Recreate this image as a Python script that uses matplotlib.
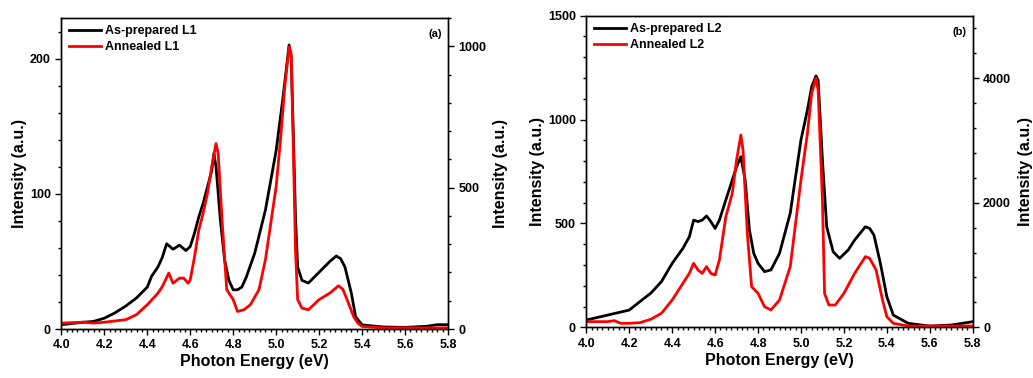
import matplotlib
matplotlib.use("Agg")
import matplotlib.pyplot as plt
from matplotlib.ticker import MultipleLocator
import numpy as np

plt.rcParams['font.family'] = ['Liberation Sans', 'DejaVu Sans']
plt.rcParams['font.weight'] = 'bold'

# Panel (a) As-prepared L1 (left axis)
a_black_x = [4.0, 4.1, 4.15, 4.2, 4.25, 4.3, 4.35, 4.4, 4.42, 4.45, 4.47, 4.49, 4.52, 4.55, 4.58, 4.6,
             4.62, 4.64, 4.66, 4.68, 4.7, 4.71, 4.72, 4.74, 4.76, 4.78, 4.8, 4.82, 4.84, 4.86, 4.9, 4.95,
             5.0, 5.03, 5.05, 5.06, 5.07, 5.08, 5.09, 5.1, 5.12, 5.15, 5.2, 5.25, 5.28, 5.3, 5.32, 5.35,
             5.37, 5.4, 5.5, 5.6, 5.7, 5.75, 5.8]
a_black_y = [3.2, 5, 5.6, 8, 12, 17, 23, 31, 39, 46, 53, 63, 59, 62, 58, 61,
             71, 83, 93, 105, 117, 130, 120, 81, 51, 36, 29, 29, 31, 38, 56, 88,
             132, 169, 196, 210, 201, 144, 83, 46, 36, 34, 42, 50, 54, 52, 46, 26.5,
             9, 3, 1.5, 1.2, 2, 3.2, 3.2]
# Panel (a) Annealed L1 (right axis)
a_red_x = [4.0, 4.1, 4.15, 4.2, 4.3, 4.35, 4.4, 4.45, 4.47, 4.5, 4.52, 4.55, 4.57, 4.59, 4.6, 4.62,
           4.64, 4.66, 4.68, 4.7, 4.72, 4.73, 4.75, 4.77, 4.8, 4.82, 4.85, 4.88, 4.92, 4.95, 5.0,
           5.02, 5.04, 5.06, 5.07, 5.08, 5.09, 5.1, 5.12, 5.15, 5.2, 5.25, 5.29, 5.31, 5.33, 5.36,
           5.38, 5.4, 5.5, 5.6, 5.7, 5.8]
a_red_y = [21, 24, 21, 24, 33, 51, 86, 127, 150, 198, 162, 180, 180, 162, 174, 256,
           351, 409, 480, 574, 656, 621, 362, 139, 104, 62, 68, 86, 139, 245, 504,
           668, 856, 998, 974, 633, 280, 104, 74, 68, 104, 127, 153, 141, 104, 45,
           21, 9, 4, 4, 4, 4]

# Panel (b) As-prepared L2 (left axis)
b_black_x = [4.0, 4.1, 4.2, 4.25, 4.3, 4.35, 4.4, 4.45, 4.48, 4.5, 4.52, 4.54, 4.56, 4.58, 4.6, 4.62,
             4.65, 4.68, 4.7, 4.72, 4.74, 4.76, 4.78, 4.8, 4.83, 4.86, 4.9, 4.95, 5.0, 5.03, 5.05,
             5.07, 5.08, 5.1, 5.12, 5.15, 5.18, 5.22, 5.25, 5.3, 5.32, 5.34, 5.37, 5.4, 5.43, 5.5,
             5.6, 5.7, 5.8]
b_black_y = [35, 59, 83, 124, 164, 220, 308, 380, 436, 516, 509, 516, 536, 509, 476, 516,
             613, 709, 773, 821, 709, 468, 356, 308, 268, 276, 356, 549, 902, 1046, 1158,
             1210, 1190, 805, 484, 364, 332, 372, 420, 484, 476, 444, 308, 148, 59, 19,
             6, 11, 27]
# Panel (b) Annealed L2 (right axis)
b_red_x = [4.0, 4.1, 4.13, 4.16, 4.2, 4.25, 4.3, 4.35, 4.4, 4.45, 4.48, 4.5, 4.52, 4.54, 4.56, 4.58,
           4.6, 4.62, 4.65, 4.68, 4.7, 4.72, 4.73, 4.75, 4.77, 4.8, 4.83, 4.86, 4.9, 4.95, 5.0,
           5.03, 5.05, 5.07, 5.08, 5.1, 5.11, 5.13, 5.16, 5.2, 5.25, 5.3, 5.32, 5.35, 5.38, 5.4,
           5.43, 5.5, 5.6, 5.8]
b_red_y = [91, 91, 107, 64, 64, 75, 128, 225, 438, 706, 866, 1027, 920, 866, 973, 866,
           840, 1080, 1775, 2150, 2684, 3086, 2845, 1508, 652, 545, 332, 278, 438, 973, 2364,
           3112, 3754, 3995, 3807, 2043, 545, 358, 358, 545, 866, 1134, 1107, 920, 438, 171,
           64, 21, 21, 21]

fig = plt.figure(figsize=(10.33, 3.78), dpi=100)

def setup(pos, bx, by, rx, ry, ylim_l, ylim_r, lmaj, lmin, rmaj, rmin, lab_b, lab_r, tag):
    ax = fig.add_axes(pos)
    ax2 = ax.twinx()
    l1, = ax.plot(bx, by, color='black', lw=2.0, label=lab_b, solid_joinstyle='round')
    l2, = ax2.plot(rx, ry, color='#ff0000', lw=2.0, label=lab_r, solid_joinstyle='round')
    ax.set_xlim(4.0, 5.8)
    ax.set_ylim(*ylim_l)
    ax2.set_ylim(*ylim_r)
    ax.xaxis.set_major_locator(MultipleLocator(0.2))
    ax.xaxis.set_minor_locator(MultipleLocator(0.025))
    ax.yaxis.set_major_locator(MultipleLocator(lmaj))
    ax.yaxis.set_minor_locator(MultipleLocator(lmin))
    ax2.yaxis.set_major_locator(MultipleLocator(rmaj))
    ax2.yaxis.set_minor_locator(MultipleLocator(rmin))
    for a in (ax, ax2):
        a.tick_params(which='major', direction='out', length=4, width=1, labelsize=9)
        a.tick_params(which='minor', direction='out', length=2, width=1)
        for s in a.spines.values():
            s.set_linewidth(1.0)
    ax.tick_params(axis='x', which='both', top=False)
    ax.set_xticklabels([f"{v:.1f}" for v in ax.get_xticks()], fontweight='bold')
    for t in ax.get_yticklabels() + ax2.get_yticklabels():
        t.set_fontweight('bold')
    ax.set_xlabel('Photon Energy (eV)', fontsize=11.5, fontweight='bold', labelpad=2)
    ax.set_ylabel('Intensity (a.u.)', fontsize=11.5, fontweight='bold', labelpad=2)
    ax2.set_ylabel('Intensity (a.u.)', fontsize=11.5, fontweight='bold', labelpad=5)
    ax2.legend(handles=[l1, l2], loc='upper left', frameon=False,
               handlelength=2.6, handletextpad=0.3, borderaxespad=0.2, labelspacing=0.3,
               prop={'weight': 'bold', 'size': 9})
    ax.text(0.985, 0.965, tag, transform=ax.transAxes, ha='right', va='top',
            fontsize=8, fontweight='bold')
    return ax, ax2

setup([0.0594, 0.1296, 0.3743, 0.8228], a_black_x, a_black_y, a_red_x, a_red_y,
      (0, 230), (0, 1100), 100, 20, 500, 100, 'As-prepared L1', 'Annealed L1', '(a)')
setup([0.5676, 0.1341, 0.3740, 0.8244], b_black_x, b_black_y, b_red_x, b_red_y,
      (0, 1500), (0, 5000), 500, 100, 2000, 400, 'As-prepared L2', 'Annealed L2', '(b)')

fig.savefig('out.png', dpi=100)
